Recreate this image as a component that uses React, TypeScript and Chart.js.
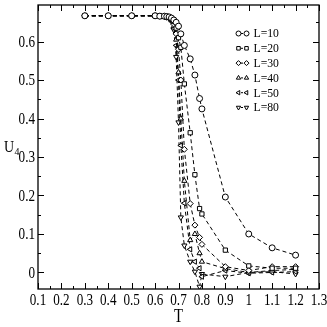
import React, { useEffect, useRef } from 'react';
import { Chart, registerables } from 'chart.js';
import { drawPoint } from 'chart.js/helpers';

Chart.register(...registerables);

// ---- data ----
const temps = [0.3, 0.4, 0.5, 0.6, 0.62, 0.64, 0.65, 0.66, 0.67, 0.68, 0.69, 0.7, 0.71, 0.725, 0.75, 0.77, 0.79, 0.8, 0.9, 1.0, 1.1, 1.2];
const uL10 = [0.667, 0.667, 0.667, 0.667, 0.666, 0.666, 0.665, 0.664, 0.661, 0.656, 0.65, 0.64, 0.62, 0.59, 0.555, 0.513, 0.452, 0.425, 0.196, 0.1, 0.064, 0.045];
const uL20 = [0.667, 0.667, 0.667, 0.667, 0.666, 0.665, 0.664, 0.663, 0.659, 0.652, 0.635, 0.61, 0.585, 0.49, 0.363, 0.254, 0.166, 0.152, 0.058, 0.017, 0.011, 0.011];
const uL30 = [0.667, 0.667, 0.667, 0.667, 0.666, 0.665, 0.664, 0.662, 0.657, 0.645, 0.62, 0.58, 0.5, 0.32, 0.179, 0.123, 0.091, 0.073, 0.015, 0.005, 0.015, 0.015];
const uL40 = [0.667, 0.667, 0.667, 0.667, 0.666, 0.665, 0.663, 0.662, 0.655, 0.64, 0.605, 0.52, 0.4, 0.238, 0.084, 0.1, 0.05, 0.028, 0.01, 0.0, 0.005, 0.008];
const uL50 = [0.667, 0.667, 0.667, 0.667, 0.666, 0.665, 0.663, 0.661, 0.654, 0.635, 0.59, 0.5, 0.33, 0.18, 0.06, 0.028, 0.011, -0.011, 0.005, -0.002, 0.0, 0.002];
const uL80 = [0.667, 0.667, 0.667, 0.667, 0.666, 0.665, 0.663, 0.661, 0.652, 0.63, 0.56, 0.39, 0.143, 0.07, 0.028, 0.002, -0.037, -0.004, -0.011, 0.0, 0.002, -0.004];

const seriesLabels = ['L=10', 'L=20', 'L=30', 'L=40', 'L=50', 'L=80'];
const seriesValues = [uL10, uL20, uL30, uL40, uL50, uL80];
const markerStyles = ['circle', 'rect', 'rectRot', 'triangle', 'triangle', 'triangle'];
const markerRotations = [0, 0, 0, 0, -90, 180];

const xTickValues = [0.1, 0.2, 0.3, 0.4, 0.5, 0.6, 0.7, 0.8, 0.9, 1.0, 1.1, 1.2, 1.3];
const xTickLabels = ['0.1', '0.2', '0.3', '0.4', '0.5', '0.6', '0.7', '0.8', '0.9', '1', '1.1', '1.2', '1.3'];
const yTickValues = [0, 0.1, 0.2, 0.3, 0.4, 0.5, 0.6];
const yTickLabels = ['0', '0.1', '0.2', '0.3', '0.4', '0.5', '0.6'];
const xTitle = 'T';
const yTitle = 'U';
const yTitleSub = '4';

const SERIF = '"Liberation Serif", "DejaVu Serif", serif';

function drawText(ctx: CanvasRenderingContext2D, text: string, x: number, y: number, size: number, align: CanvasTextAlign, sx = 0.82) {
  ctx.save();
  ctx.translate(x, y);
  ctx.scale(sx, 1);
  ctx.font = `${size}px ${SERIF}`;
  ctx.fillStyle = '#000';
  ctx.textAlign = align;
  ctx.textBaseline = 'middle';
  ctx.fillText(text, 0, 0);
  ctx.restore();
}

const framePlugin = {
  id: 'frame',
  afterDraw(chart: any) {
    const { ctx, chartArea: a, scales } = chart;
    const x = scales.x;
    const y = scales.y;
    ctx.save();
    ctx.strokeStyle = '#000';
    ctx.lineWidth = 1.3;
    ctx.strokeRect(a.left, a.top, a.right - a.left, a.bottom - a.top);
    ctx.lineWidth = 1;
    ctx.beginPath();
    const major = 6;
    const minor = 3;
    xTickValues.forEach((v, i) => {
      const px = Math.round(x.getPixelForValue(v)) + 0.5;
      ctx.moveTo(px, a.bottom); ctx.lineTo(px, a.bottom - major);
      ctx.moveTo(px, a.top); ctx.lineTo(px, a.top + major);
      if (i < xTickValues.length - 1) {
        const m = Math.round(x.getPixelForValue((v + xTickValues[i + 1]) / 2)) + 0.5;
        ctx.moveTo(m, a.bottom); ctx.lineTo(m, a.bottom - minor);
        ctx.moveTo(m, a.top); ctx.lineTo(m, a.top + minor);
      }
    });
    const yMinors: number[] = [];
    yTickValues.forEach((v, i) => {
      if (i < yTickValues.length - 1) yMinors.push((v + yTickValues[i + 1]) / 2);
    });
    const step = yTickValues[1] - yTickValues[0];
    const topMinor = yTickValues[yTickValues.length - 1] + step / 2;
    if (topMinor <= y.max) yMinors.push(topMinor);
    yTickValues.forEach((v) => {
      const py = Math.round(y.getPixelForValue(v)) + 0.5;
      ctx.moveTo(a.left, py); ctx.lineTo(a.left + major, py);
      ctx.moveTo(a.right, py); ctx.lineTo(a.right - major, py);
    });
    yMinors.forEach((v) => {
      const py = Math.round(y.getPixelForValue(v)) + 0.5;
      ctx.moveTo(a.left, py); ctx.lineTo(a.left + minor, py);
      ctx.moveTo(a.right, py); ctx.lineTo(a.right - minor, py);
    });
    ctx.stroke();

    // tick labels
    xTickValues.forEach((v, i) => {
      drawText(ctx, xTickLabels[i], x.getPixelForValue(v), a.bottom + 11.5, 16, 'center');
    });
    yTickValues.forEach((v, i) => {
      drawText(ctx, yTickLabels[i], a.left - 3, y.getPixelForValue(v) + 1, 16, 'right');
    });
    // axis titles
    drawText(ctx, xTitle, (a.left + a.right) / 2, a.bottom + 28.5, 18, 'center');
    const my = (a.top + a.bottom) / 2;
    drawText(ctx, yTitle, 4, my + 1, 17, 'left');
    drawText(ctx, yTitleSub, 14.5, my + 5, 11, 'left', 0.9);

    // legend
    const lx1 = 238.5;
    const lx2 = 246.5;
    const ly0 = 33.5;
    const lstep = 14.8;
    seriesLabels.forEach((lab, i) => {
      const ly = ly0 + i * lstep;
      ctx.save();
      ctx.strokeStyle = '#000';
      ctx.lineWidth = 1;
      ctx.setLineDash([2, 2]);
      ctx.beginPath();
      ctx.moveTo(lx1 + 2.5, ly); ctx.lineTo(lx2 - 2.5, ly);
      ctx.stroke();
      ctx.setLineDash([]);
      ctx.fillStyle = '#fff';
      const opts = { pointStyle: markerStyles[i], rotation: markerRotations[i], radius: 2.5, borderWidth: 1 };
      drawPoint(ctx, opts as any, lx1, ly);
      drawPoint(ctx, opts as any, lx2, ly);
      ctx.restore();
      drawText(ctx, lab, 253.5, ly + 0.5, 13, 'left', 0.9);
    });
    ctx.restore();
  },
};

export default function App() {
  const ref = useRef<HTMLCanvasElement | null>(null);
  useEffect(() => {
    if (!ref.current) return;
    const datasets = seriesLabels.map((lab, i) => ({
      label: lab,
      data: temps.map((t, j) => ({ x: t, y: seriesValues[i][j] })),
      borderColor: '#000',
      borderWidth: 1,
      borderDash: [4, 3],
      pointStyle: markerStyles[i],
      pointRotation: markerRotations[i],
      pointRadius: 3,
      pointBorderWidth: 1,
      pointBorderColor: '#000',
      pointBackgroundColor: '#fff',
      showLine: true,
      fill: false,
      tension: 0,
    }));
    const chart = new Chart(ref.current, {
      type: 'line',
      data: { datasets },
      options: {
        animation: false,
        responsive: false,
        devicePixelRatio: 1,
        layout: { padding: { top: 4, right: 8, left: 0, bottom: 0 } },
        plugins: { legend: { display: false }, tooltip: { enabled: false } },
        scales: {
          x: {
            type: 'linear',
            min: 0.1,
            max: 1.3,
            afterBuildTicks: (s: any) => { s.ticks = xTickValues.map((v) => ({ value: v })); },
            ticks: { display: false },
            grid: { display: false },
            border: { display: false },
            afterFit: (s: any) => { s.height = 38; },
          },
          y: {
            type: 'linear',
            min: -0.043,
            max: 0.695,
            afterBuildTicks: (s: any) => { s.ticks = yTickValues.map((v) => ({ value: v })); },
            ticks: { display: false },
            grid: { display: false },
            border: { display: false },
            afterFit: (s: any) => { s.width = 38; },
          },
        },
      } as any,
      plugins: [framePlugin],
    });
    return () => chart.destroy();
  }, []);
  return (
    <div style={{ position: 'fixed', left: 0, top: 0, width: 327, height: 327, background: '#fff' }}>
      <canvas ref={ref} width={327} height={327} style={{ display: 'block', width: 327, height: 327 }} />
    </div>
  );
}
